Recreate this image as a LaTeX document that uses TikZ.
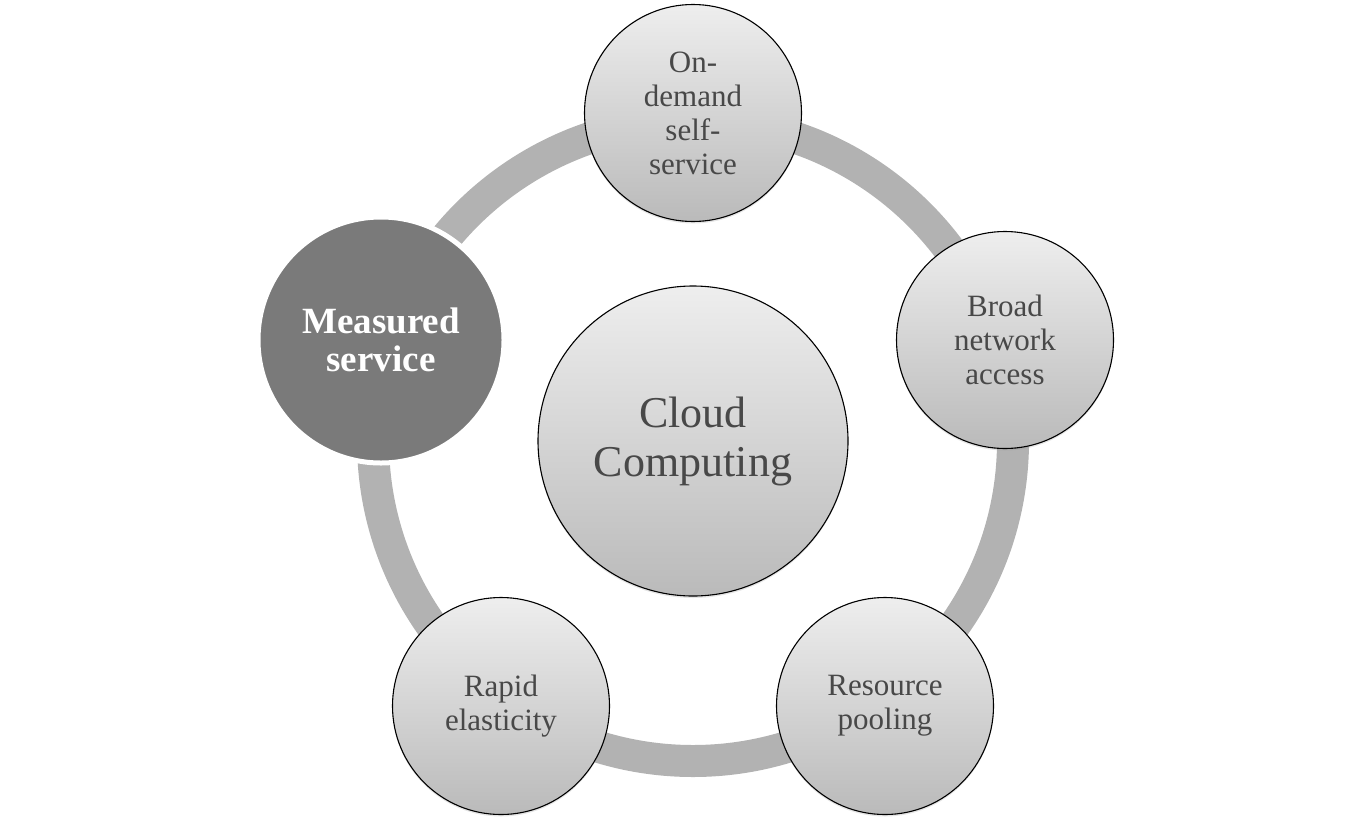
\documentclass[tikz,border=0pt]{standalone}
\usepackage{fontspec}
\setmainfont{Liberation Serif}
\usetikzlibrary{shadows}
\definecolor{ringgray}{RGB}{178,178,178}
\definecolor{txtgray}{RGB}{72,72,72}
\definecolor{topgray}{RGB}{238,238,238}
\definecolor{botgray}{RGB}{186,186,186}
\definecolor{darkfill}{RGB}{122,122,122}
\tikzset{
  bubble/.style={circle, draw=black, line width=1.1pt, top color=topgray, bottom color=botgray,
    text=txtgray, align=center, inner sep=0pt, minimum size=217pt,
    font=\fontsize{31}{34}\selectfont,
    drop shadow={shadow xshift=0pt, shadow yshift=-2pt, opacity=0.25, fill=black!40}},
  hubbubble/.style={bubble, minimum size=310pt, font=\fontsize{44}{49}\selectfont},
  darkbubble/.style={circle, draw=white, line width=5pt, fill=darkfill, text=white,
    align=center, inner sep=0pt, minimum size=246pt,
    font=\fontsize{37}{38}\selectfont\bfseries,
    drop shadow={shadow xshift=0pt, shadow yshift=-1pt, opacity=0.3, fill=black!40}},
  ringline/.style={draw=ringgray, line width=32pt}
}
\begin{document}
\begin{tikzpicture}[x=1pt,y=-1pt]
\useasboundingbox (0,0) rectangle (1370,825);
\coordinate (ctr) at (693,441);
\draw[ringline] (ctr) circle[radius=320];
\node[hubbubble] (hub) at (ctr) {Cloud\\Computing};
\node[bubble] (ondemand) at (693,113) {On-\\demand\\self-\\service};
\node[bubble] (broad) at (1005,340) {Broad\\network\\access};
\node[bubble] (pool) at (885,706) {Resource\\pooling};
\node[bubble] (rapid) at (501,706) {Rapid\\elasticity};
\node[darkbubble] (measured) at (381,340) {Measured\\service};
\end{tikzpicture}
\end{document}
